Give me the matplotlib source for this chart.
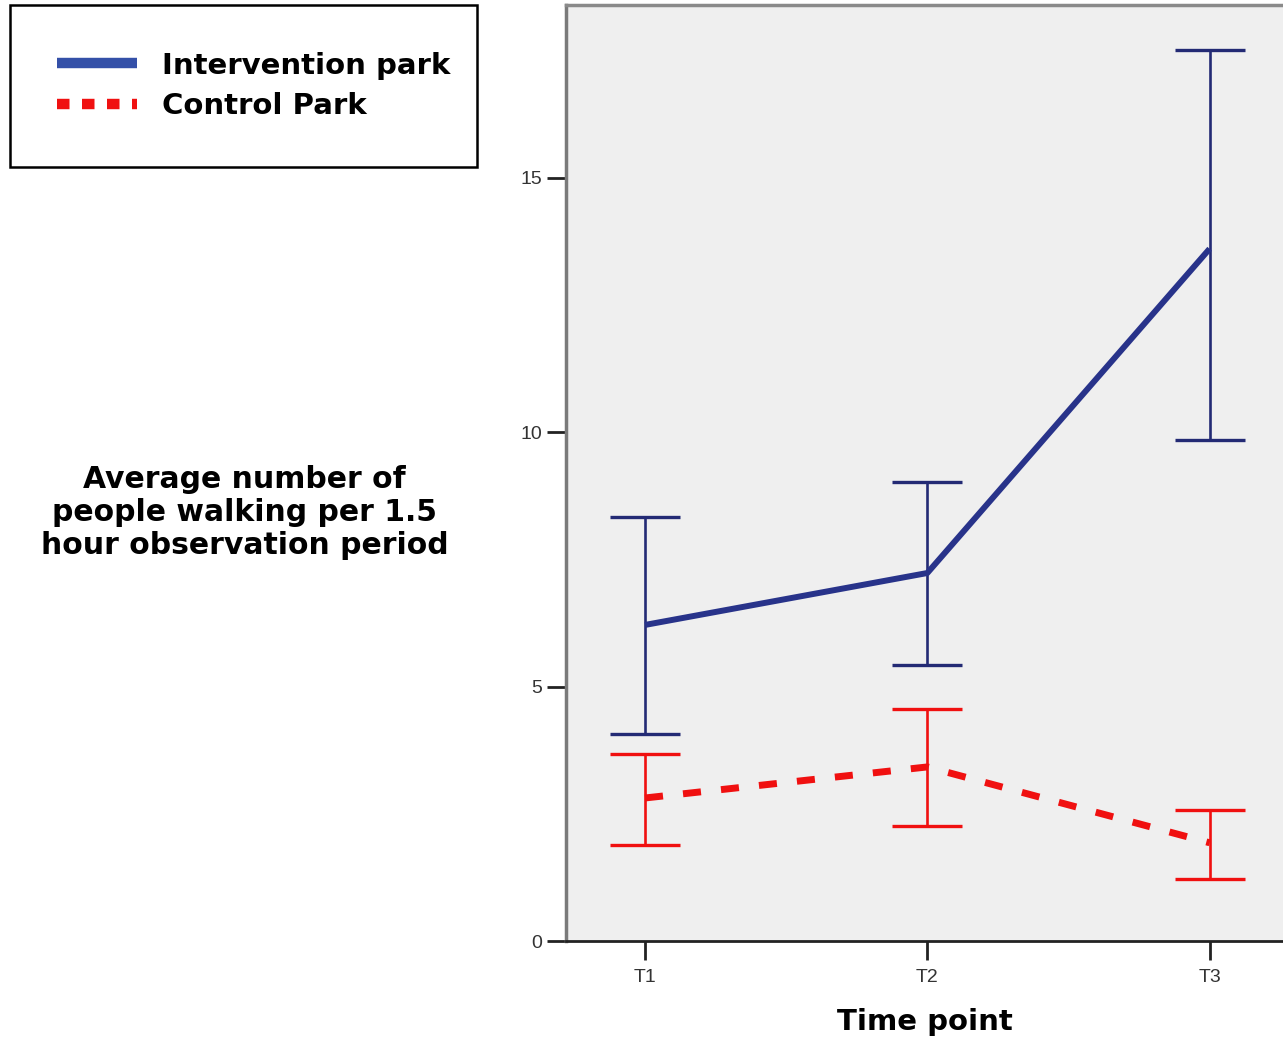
import numpy as np
import matplotlib.pyplot as plt
from matplotlib.lines import Line2D

# Data
time_points = ['T1', 'T2', 'T3']
intervention_mean = [6.21, 7.23, 13.60]
intervention_low = [4.07, 5.42, 9.84]
intervention_high = [8.33, 9.02, 17.50]
control_mean = [2.81, 3.42, 1.93]
control_low = [1.89, 2.26, 1.22]
control_high = [3.67, 4.56, 2.57]

BLUE_LINE = '#28338a'
BLUE_BAR = '#232a74'
BLUE_LEGEND = '#3450a8'
RED = '#f01010'
BG = '#efefef'

fig = plt.figure(figsize=(12.83, 10.41), dpi=100)
ax = fig.add_axes([566 / 1283, 1 - 941 / 1041, 1 - 566 / 1283, (941 - 5) / 1041])
ax.set_facecolor(BG)

x = np.arange(1, len(time_points) + 1)


def draw_series(mean, low, high, line_kw, bar_color):
    mean = np.array(mean)
    yerr = [mean - np.array(low), np.array(high) - mean]
    ax.errorbar(x, mean, yerr=yerr, fmt='none', ecolor=bar_color,
                elinewidth=1.9, capsize=25, capthick=2.4, zorder=2)
    ax.plot(x, mean, zorder=3, **line_kw)


draw_series(intervention_mean, intervention_low, intervention_high,
            dict(color=BLUE_LINE, linewidth=4.3, solid_capstyle='butt'), BLUE_BAR)
draw_series(control_mean, control_low, control_high,
            dict(color=RED, linewidth=5, dashes=(2.6, 2.9), dash_capstyle='butt'), RED)

ax.set_xlim(0.72, 3.26)
ax.set_ylim(0, 18.39)
ax.set_xticks(x)
ax.set_xticklabels(time_points)
ax.set_yticks([0, 5, 10, 15])

for lbl in ax.get_xticklabels() + ax.get_yticklabels():
    lbl.set_family('Liberation Sans')
    lbl.set_fontsize(14)
    lbl.set_color('#333333')
ax.tick_params(axis='both', direction='out', length=14, width=2, color='#222222', pad=3)
ax.tick_params(axis='x', pad=6)

ax.spines['left'].set_color('#7a7a7a')
ax.spines['left'].set_linewidth(2.5)
ax.spines['top'].set_color('#8a8a8a')
ax.spines['top'].set_linewidth(2.5)
ax.spines['bottom'].set_color('#222222')
ax.spines['bottom'].set_linewidth(2)
ax.spines['right'].set_visible(False)

ax.set_xlabel('Time point', fontsize=21, fontweight='bold', family='DejaVu Sans', labelpad=16)
ax.set_ylabel('Average number of\npeople walking per 1.5\nhour observation period',
              fontsize=21.5, fontweight='bold', family='DejaVu Sans', rotation=0,
              ha='center', va='center', multialignment='center', linespacing=1.18)
ax.yaxis.set_label_coords(-0.448, 0.458)

handles = [
    Line2D([], [], color=BLUE_LEGEND, linewidth=7.5, solid_capstyle='butt'),
    Line2D([], [], color=RED, linewidth=7.5, dashes=(1.2, 1.2), dash_capstyle='butt'),
]
leg = fig.legend(handles, ['Intervention park', 'Control Park'],
                 loc='upper left', mode='expand',
                 bbox_to_anchor=(10 / 1283, 1 - 166 / 1041, 467 / 1283, 161 / 1041),
                 frameon=True, fancybox=False, edgecolor='black', framealpha=1,
                 prop={'family': 'DejaVu Sans', 'weight': 'bold', 'size': 21},
                 handlelength=2.75, handletextpad=0.85, borderpad=1.6,
                 labelspacing=0.44, borderaxespad=0)
leg.get_frame().set_linewidth(1.8)

fig.savefig('out.png', dpi=100, facecolor='white')
